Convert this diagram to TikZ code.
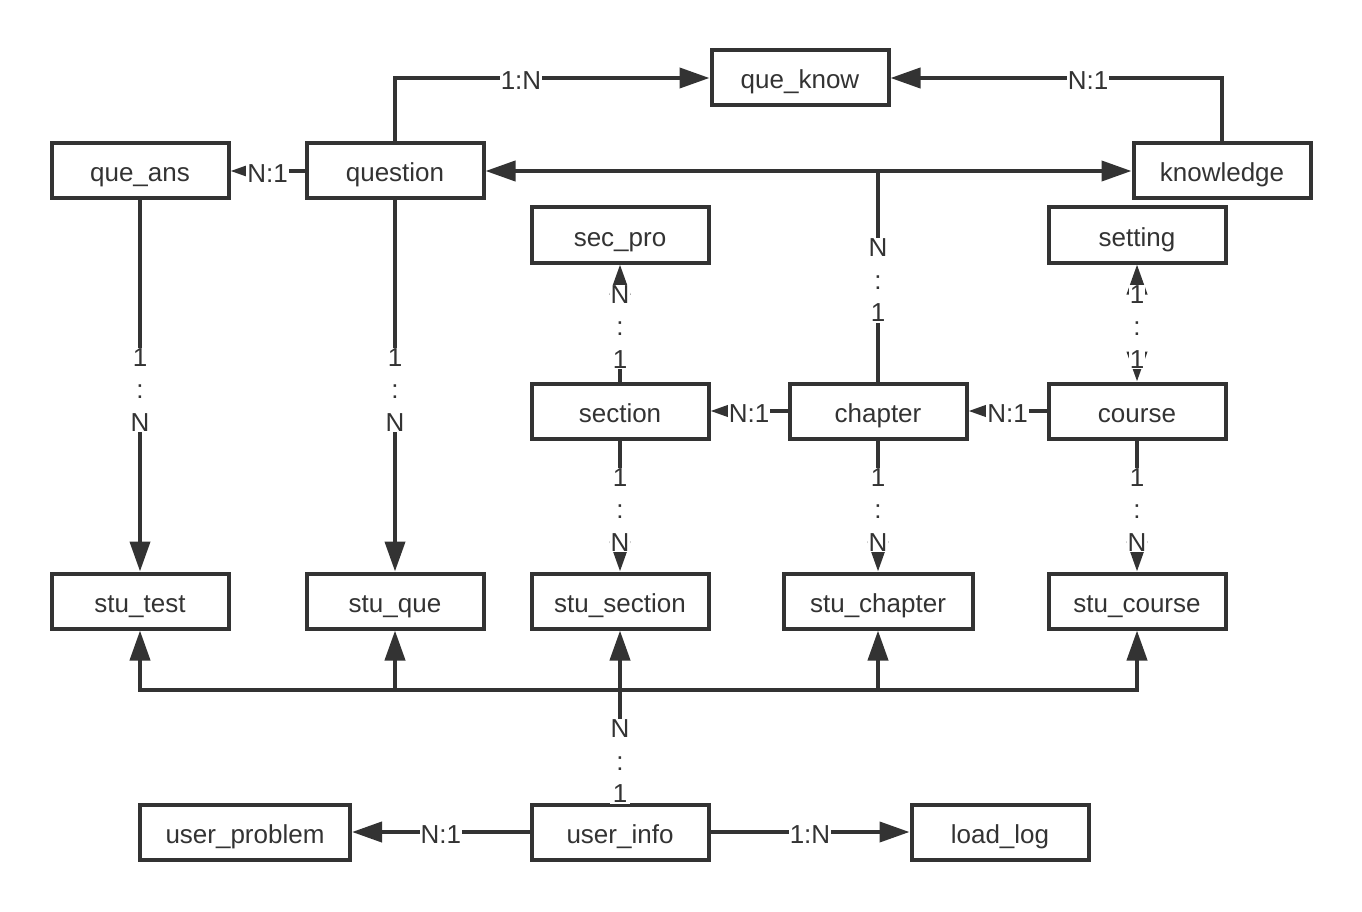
\documentclass[tikz,border=0pt]{standalone}
\usepackage{fontspec}
\setmainfont{Liberation Sans}
\usetikzlibrary{arrows.meta}
\definecolor{ink}{HTML}{333333}
\begin{document}
\begin{tikzpicture}[x=1pt,y=-1pt,
  every node/.style={font=\fontsize{26}{32.5}\selectfont, text=ink},
  entity/.style={draw=ink, line width=4pt, fill=white, minimum width=177pt,
                 minimum height=55pt, inner sep=0pt, text height=24pt, text depth=2pt},
  link/.style={draw=ink, line width=4pt},
  arr/.style={link, -{Triangle[length=30pt,width=20pt]}},
  biarr/.style={link, {Triangle[length=30pt,width=20pt]}-{Triangle[length=30pt,width=20pt]}},
  lbl/.style={fill=white, inner xsep=1pt, inner ysep=5pt, yshift=-3pt},
  vlbl/.style={fill=white, inner sep=1pt, align=center, yshift=-4pt}]
\useasboundingbox (0,0) rectangle (1362,912);

% entities
\node[entity] (queknow) at (800,78) {que\_know};
\node[entity] (queans) at (140,171) {que\_ans};
\node[entity] (question) at (395,171) {question};
\node[entity] (knowledge) at (1222,171) {knowledge};
\node[entity] (secpro) at (620,235) {sec\_pro};
\node[entity] (setting) at (1137,235) {setting};
\node[entity] (section) at (620,411) {section};
\node[entity] (chapter) at (878,411) {chapter};
\node[entity] (course) at (1137,411) {course};
\node[entity] (stutest) at (140,601) {stu\_test};
\node[entity] (stuque) at (395,601) {stu\_que};
\node[entity] (stusection) at (620,601) {stu\_section};
\node[entity, minimum width=189pt] (stuchapter) at (878,601) {stu\_chapter};
\node[entity] (stucourse) at (1137,601) {stu\_course};
\node[entity, minimum width=210pt] (userproblem) at (245,832) {user\_problem};
\node[entity] (userinfo) at (620,832) {user\_info};
\node[entity] (loadlog) at (1000,832) {load\_log};

% question / knowledge to que_know
\draw[arr] (question.north) |- (queknow.west);
\node[lbl] at (521,78) {1:N};
\draw[arr] (knowledge.north) |- (queknow.east);
\node[lbl] at (1088,78) {N:1};

% question to que_ans
\draw[arr] (question.west) -- (queans.east) node[lbl, midway] {N:1};

% chapter up to the question--knowledge line
\coordinate (cj) at (chapter.north |- question.east);
\draw[arr] (cj) -- (question.east);
\draw[arr] (cj) -- (knowledge.west);
\draw[link] (chapter.north) -- (cj) node[vlbl, midway] {N\\:\\1};

% downward 1:N links
\draw[arr] (queans.south) -- (stutest.north) node[vlbl, midway] {1\\:\\N};
\draw[arr] (question.south) -- (stuque.north) node[vlbl, midway] {1\\:\\N};
\draw[arr] (section.south) -- (stusection.north) node[vlbl, midway] {1\\:\\N};
\draw[arr] (chapter.south) -- (stuchapter.north) node[vlbl, midway] {1\\:\\N};
\draw[arr] (course.south) -- (stucourse.north) node[vlbl, midway] {1\\:\\N};

% section / course upward links
\draw[arr] (section.north) -- (secpro.south) node[vlbl, midway] {N\\:\\1};
\draw[biarr] (course.north) -- (setting.south) node[vlbl, midway] {1\\:\\1};

% chain course -> chapter -> section
\draw[arr] (chapter.west) -- (section.east) node[lbl, midway] {N:1};
\draw[arr] (course.west) -- (chapter.east) node[lbl, midway] {N:1};

% user_info bus to the student tables
\coordinate (bus) at (userinfo.north |- 0,690);
\draw[arr] (bus) -| (stutest.south);
\draw[arr] (bus) -| (stuque.south);
\draw[arr] (bus) -- (stusection.south);
\draw[arr] (bus) -| (stuchapter.south);
\draw[arr] (bus) -| (stucourse.south);
\draw[link] (userinfo.north) -- (bus) node[vlbl, pos=0.4] {N\\:\\1};

% user_info side links
\draw[arr] (userinfo.west) -- (userproblem.east) node[lbl, midway] {N:1};
\draw[arr] (userinfo.east) -- (loadlog.west) node[lbl, midway] {1:N};
\end{tikzpicture}
\end{document}
